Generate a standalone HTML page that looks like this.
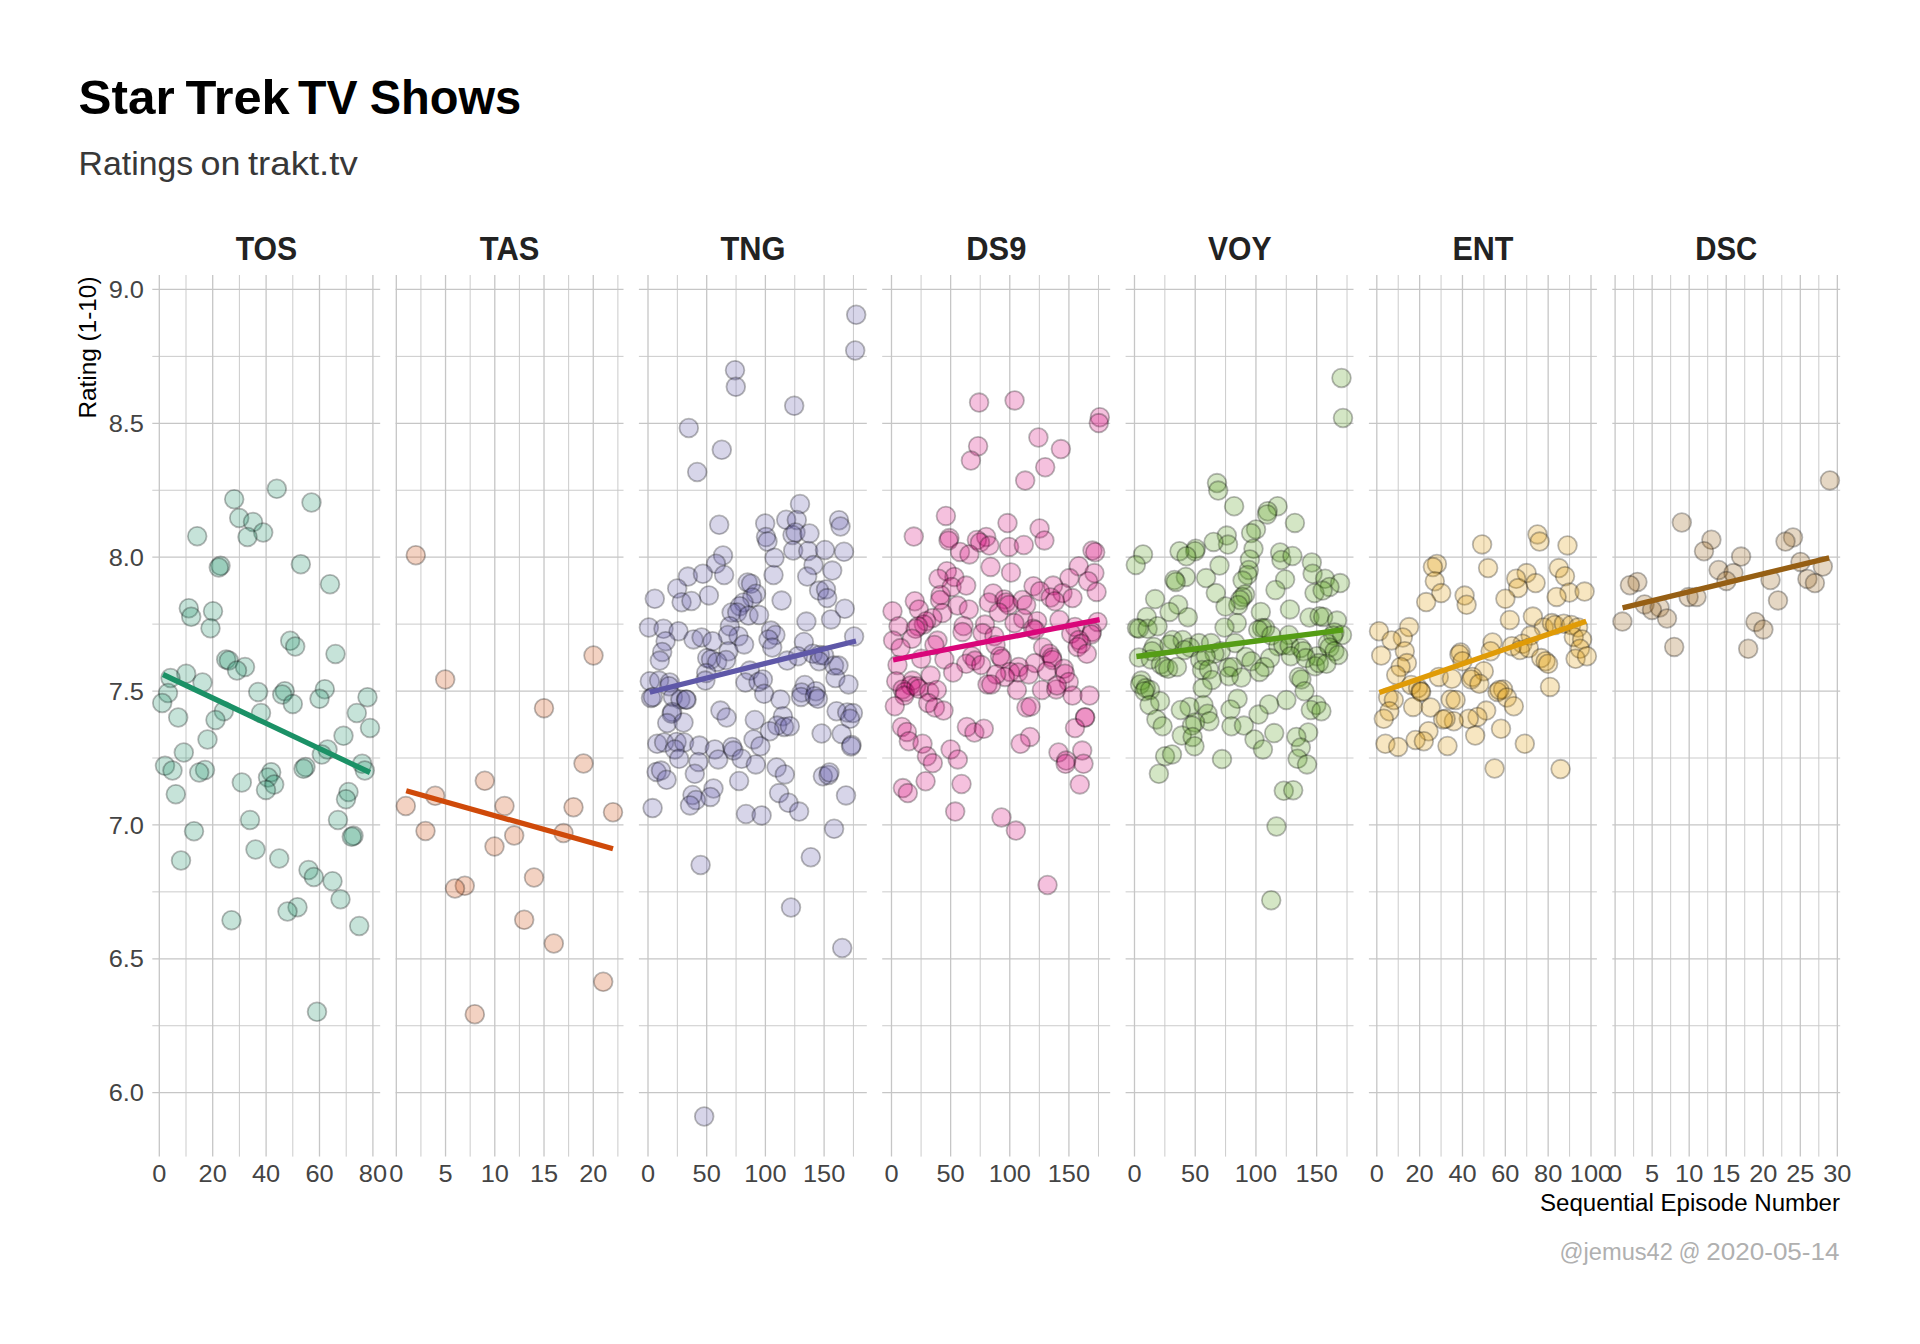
<!DOCTYPE html>
<html><head><meta charset="utf-8"><title>Star Trek TV Shows</title>
<style>
html,body{margin:0;padding:0;background:#fff;}
body{width:1920px;height:1344px;overflow:hidden;font-family:"Liberation Sans", sans-serif;}
svg{display:block;position:absolute;left:0;top:0;}
text{font-family:"Liberation Sans", sans-serif;}
.gM{stroke:#c6c6c6;stroke-width:1.3;}
.gm{stroke:#c8c8c8;stroke-width:0.95;}
.tk{font-size:23.5px;fill:#444444;}
.st{font-size:32.5px;font-weight:bold;fill:#222222;}
.pt{stroke:#000;stroke-opacity:0.28;stroke-width:1.8;fill-opacity:0.25;}
.ln{stroke-width:5.3;fill:none;stroke-linecap:butt;}
</style></head><body>
<svg width="1920" height="1344" viewBox="0 0 1920 1344">
<rect width="1920" height="1344" fill="#ffffff"/>
<text x="78.6" y="114.2" font-size="48.5" font-weight="bold" fill="#000" textLength="96.1" lengthAdjust="spacingAndGlyphs">Star</text>
<text x="185.6" y="114.2" font-size="48.5" font-weight="bold" fill="#000" textLength="104.2" lengthAdjust="spacingAndGlyphs">Trek</text>
<text x="298.0" y="114.2" font-size="48.5" font-weight="bold" fill="#000" textLength="59.5" lengthAdjust="spacingAndGlyphs">TV</text>
<text x="369.7" y="114.2" font-size="48.5" font-weight="bold" fill="#000" textLength="151.6" lengthAdjust="spacingAndGlyphs">Shows</text>
<text x="78.6" y="174.7" font-size="33.5" fill="#383838" textLength="114.5" lengthAdjust="spacingAndGlyphs">Ratings</text>
<text x="200.5" y="174.7" font-size="33.5" fill="#383838" textLength="40.0" lengthAdjust="spacingAndGlyphs">on</text>
<text x="247.9" y="174.7" font-size="33.5" fill="#383838" textLength="109.9" lengthAdjust="spacingAndGlyphs">trakt.tv</text>
<text transform="translate(96.3,418.5) rotate(-90)" font-size="23.5" fill="#000" textLength="142" lengthAdjust="spacingAndGlyphs">Rating (1-10)</text>
<text x="1840" y="1210.7" font-size="23.5" fill="#000" text-anchor="end" textLength="300" lengthAdjust="spacingAndGlyphs">Sequential Episode Number</text>
<text x="1559.6" y="1260" font-size="23.5" fill="#b0b0b0" textLength="113.3" lengthAdjust="spacingAndGlyphs">@jemus42</text>
<text x="1678.8" y="1260" font-size="23.5" fill="#b0b0b0" textLength="21.6" lengthAdjust="spacingAndGlyphs">@</text>
<text x="1706.3" y="1260" font-size="23.5" fill="#b0b0b0" textLength="133.2" lengthAdjust="spacingAndGlyphs">2020-05-14</text>
<text class="tk" x="144" y="298.1" text-anchor="end" textLength="35.3" lengthAdjust="spacingAndGlyphs">9.0</text>
<text class="tk" x="144" y="431.9" text-anchor="end" textLength="35.3" lengthAdjust="spacingAndGlyphs">8.5</text>
<text class="tk" x="144" y="565.8" text-anchor="end" textLength="35.3" lengthAdjust="spacingAndGlyphs">8.0</text>
<text class="tk" x="144" y="699.7" text-anchor="end" textLength="35.3" lengthAdjust="spacingAndGlyphs">7.5</text>
<text class="tk" x="144" y="833.5" text-anchor="end" textLength="35.3" lengthAdjust="spacingAndGlyphs">7.0</text>
<text class="tk" x="144" y="967.4" text-anchor="end" textLength="35.3" lengthAdjust="spacingAndGlyphs">6.5</text>
<text class="tk" x="144" y="1101.3" text-anchor="end" textLength="35.3" lengthAdjust="spacingAndGlyphs">6.0</text>
<g>
<text class="st" x="266.4" y="260" text-anchor="middle" textLength="61.5" lengthAdjust="spacingAndGlyphs">TOS</text>
<line class="gM" x1="152.3" x2="380.2" y1="289.45" y2="289.45"/>
<line class="gm" x1="152.3" x2="380.2" y1="356.38" y2="356.38"/>
<line class="gM" x1="152.3" x2="380.2" y1="423.32" y2="423.32"/>
<line class="gm" x1="152.3" x2="380.2" y1="490.25" y2="490.25"/>
<line class="gM" x1="152.3" x2="380.2" y1="557.19" y2="557.19"/>
<line class="gm" x1="152.3" x2="380.2" y1="624.12" y2="624.12"/>
<line class="gM" x1="152.3" x2="380.2" y1="691.06" y2="691.06"/>
<line class="gm" x1="152.3" x2="380.2" y1="758.00" y2="758.00"/>
<line class="gM" x1="152.3" x2="380.2" y1="824.93" y2="824.93"/>
<line class="gm" x1="152.3" x2="380.2" y1="891.87" y2="891.87"/>
<line class="gM" x1="152.3" x2="380.2" y1="958.80" y2="958.80"/>
<line class="gm" x1="152.3" x2="380.2" y1="1025.74" y2="1025.74"/>
<line class="gM" x1="152.3" x2="380.2" y1="1092.67" y2="1092.67"/>
<line class="gM" x1="159.30" x2="159.30" y1="275.0" y2="1156.6"/>
<text class="tk" x="159.3" y="1181.7" text-anchor="middle" textLength="14.1" lengthAdjust="spacingAndGlyphs">0</text>
<line class="gm" x1="186.00" x2="186.00" y1="275.0" y2="1156.6"/>
<line class="gM" x1="212.70" x2="212.70" y1="275.0" y2="1156.6"/>
<text class="tk" x="212.7" y="1181.7" text-anchor="middle" textLength="28.2" lengthAdjust="spacingAndGlyphs">20</text>
<line class="gm" x1="239.40" x2="239.40" y1="275.0" y2="1156.6"/>
<line class="gM" x1="266.10" x2="266.10" y1="275.0" y2="1156.6"/>
<text class="tk" x="266.1" y="1181.7" text-anchor="middle" textLength="28.2" lengthAdjust="spacingAndGlyphs">40</text>
<line class="gm" x1="292.80" x2="292.80" y1="275.0" y2="1156.6"/>
<line class="gM" x1="319.50" x2="319.50" y1="275.0" y2="1156.6"/>
<text class="tk" x="319.5" y="1181.7" text-anchor="middle" textLength="28.2" lengthAdjust="spacingAndGlyphs">60</text>
<line class="gm" x1="346.20" x2="346.20" y1="275.0" y2="1156.6"/>
<line class="gM" x1="372.90" x2="372.90" y1="275.0" y2="1156.6"/>
<text class="tk" x="372.9" y="1181.7" text-anchor="middle" textLength="28.2" lengthAdjust="spacingAndGlyphs">80</text>
<g class="pt" fill="#1B9166">
<circle cx="276.8" cy="488.8" r="9.35"/><circle cx="234.2" cy="499.2" r="9.35"/><circle cx="311.5" cy="502.5" r="9.35"/><circle cx="239.2" cy="518.0" r="9.35"/><circle cx="253.0" cy="522.0" r="9.35"/><circle cx="263.2" cy="532.5" r="9.35"/><circle cx="247.5" cy="537.0" r="9.35"/><circle cx="197.2" cy="536.2" r="9.35"/><circle cx="220.5" cy="565.8" r="9.35"/><circle cx="218.8" cy="567.5" r="9.35"/><circle cx="300.8" cy="564.2" r="9.35"/><circle cx="330.0" cy="584.2" r="9.35"/><circle cx="188.8" cy="608.2" r="9.35"/><circle cx="191.2" cy="616.8" r="9.35"/><circle cx="213.0" cy="611.2" r="9.35"/><circle cx="210.5" cy="628.2" r="9.35"/><circle cx="290.2" cy="640.8" r="9.35"/><circle cx="295.2" cy="646.5" r="9.35"/><circle cx="335.5" cy="654.0" r="9.35"/><circle cx="226.2" cy="659.5" r="9.35"/><circle cx="228.8" cy="660.5" r="9.35"/><circle cx="245.0" cy="667.0" r="9.35"/><circle cx="237.0" cy="670.5" r="9.35"/><circle cx="186.2" cy="673.8" r="9.35"/><circle cx="170.5" cy="678.0" r="9.35"/><circle cx="202.5" cy="682.5" r="9.35"/><circle cx="168.0" cy="693.0" r="9.35"/><circle cx="162.2" cy="703.0" r="9.35"/><circle cx="258.2" cy="692.0" r="9.35"/><circle cx="284.8" cy="691.2" r="9.35"/><circle cx="282.2" cy="694.5" r="9.35"/><circle cx="292.8" cy="704.0" r="9.35"/><circle cx="324.8" cy="689.2" r="9.35"/><circle cx="319.5" cy="698.8" r="9.35"/><circle cx="367.5" cy="697.2" r="9.35"/><circle cx="356.8" cy="713.0" r="9.35"/><circle cx="261.0" cy="713.0" r="9.35"/><circle cx="223.8" cy="711.2" r="9.35"/><circle cx="215.5" cy="720.0" r="9.35"/><circle cx="178.2" cy="717.5" r="9.35"/><circle cx="370.0" cy="728.0" r="9.35"/><circle cx="343.5" cy="735.8" r="9.35"/><circle cx="207.5" cy="739.5" r="9.35"/><circle cx="327.5" cy="749.5" r="9.35"/><circle cx="321.8" cy="754.5" r="9.35"/><circle cx="183.8" cy="752.5" r="9.35"/><circle cx="165.0" cy="765.8" r="9.35"/><circle cx="172.5" cy="770.5" r="9.35"/><circle cx="362.2" cy="763.8" r="9.35"/><circle cx="364.8" cy="770.5" r="9.35"/><circle cx="305.5" cy="767.0" r="9.35"/><circle cx="303.5" cy="768.8" r="9.35"/><circle cx="205.0" cy="770.0" r="9.35"/><circle cx="199.2" cy="772.5" r="9.35"/><circle cx="271.2" cy="772.2" r="9.35"/><circle cx="268.0" cy="777.5" r="9.35"/><circle cx="241.8" cy="782.5" r="9.35"/><circle cx="274.2" cy="784.5" r="9.35"/><circle cx="266.0" cy="790.0" r="9.35"/><circle cx="175.8" cy="794.2" r="9.35"/><circle cx="348.5" cy="792.0" r="9.35"/><circle cx="346.0" cy="799.2" r="9.35"/><circle cx="250.0" cy="820.0" r="9.35"/><circle cx="338.0" cy="820.0" r="9.35"/><circle cx="194.0" cy="831.2" r="9.35"/><circle cx="353.5" cy="835.8" r="9.35"/><circle cx="351.8" cy="836.8" r="9.35"/><circle cx="255.5" cy="849.5" r="9.35"/><circle cx="181.0" cy="860.5" r="9.35"/><circle cx="279.2" cy="858.5" r="9.35"/><circle cx="308.5" cy="870.0" r="9.35"/><circle cx="313.8" cy="877.0" r="9.35"/><circle cx="332.5" cy="881.2" r="9.35"/><circle cx="340.5" cy="899.2" r="9.35"/><circle cx="297.5" cy="907.2" r="9.35"/><circle cx="287.5" cy="911.5" r="9.35"/><circle cx="231.5" cy="920.2" r="9.35"/><circle cx="359.2" cy="926.0" r="9.35"/><circle cx="317.0" cy="1011.8" r="9.35"/>
</g>
<line class="ln" stroke="#1B9166" x1="163.0" y1="674.5" x2="370.0" y2="772.5"/>
</g>
<g>
<text class="st" x="509.6" y="260" text-anchor="middle" textLength="59.5" lengthAdjust="spacingAndGlyphs">TAS</text>
<line class="gM" x1="395.6" x2="623.5" y1="289.45" y2="289.45"/>
<line class="gm" x1="395.6" x2="623.5" y1="356.38" y2="356.38"/>
<line class="gM" x1="395.6" x2="623.5" y1="423.32" y2="423.32"/>
<line class="gm" x1="395.6" x2="623.5" y1="490.25" y2="490.25"/>
<line class="gM" x1="395.6" x2="623.5" y1="557.19" y2="557.19"/>
<line class="gm" x1="395.6" x2="623.5" y1="624.12" y2="624.12"/>
<line class="gM" x1="395.6" x2="623.5" y1="691.06" y2="691.06"/>
<line class="gm" x1="395.6" x2="623.5" y1="758.00" y2="758.00"/>
<line class="gM" x1="395.6" x2="623.5" y1="824.93" y2="824.93"/>
<line class="gm" x1="395.6" x2="623.5" y1="891.87" y2="891.87"/>
<line class="gM" x1="395.6" x2="623.5" y1="958.80" y2="958.80"/>
<line class="gm" x1="395.6" x2="623.5" y1="1025.74" y2="1025.74"/>
<line class="gM" x1="395.6" x2="623.5" y1="1092.67" y2="1092.67"/>
<line class="gM" x1="396.30" x2="396.30" y1="275.0" y2="1156.6"/>
<text class="tk" x="396.3" y="1181.7" text-anchor="middle" textLength="14.1" lengthAdjust="spacingAndGlyphs">0</text>
<line class="gm" x1="420.92" x2="420.92" y1="275.0" y2="1156.6"/>
<line class="gM" x1="445.54" x2="445.54" y1="275.0" y2="1156.6"/>
<text class="tk" x="445.5" y="1181.7" text-anchor="middle" textLength="14.1" lengthAdjust="spacingAndGlyphs">5</text>
<line class="gm" x1="470.16" x2="470.16" y1="275.0" y2="1156.6"/>
<line class="gM" x1="494.78" x2="494.78" y1="275.0" y2="1156.6"/>
<text class="tk" x="494.8" y="1181.7" text-anchor="middle" textLength="28.2" lengthAdjust="spacingAndGlyphs">10</text>
<line class="gm" x1="519.40" x2="519.40" y1="275.0" y2="1156.6"/>
<line class="gM" x1="544.02" x2="544.02" y1="275.0" y2="1156.6"/>
<text class="tk" x="544.0" y="1181.7" text-anchor="middle" textLength="28.2" lengthAdjust="spacingAndGlyphs">15</text>
<line class="gm" x1="568.64" x2="568.64" y1="275.0" y2="1156.6"/>
<line class="gM" x1="593.26" x2="593.26" y1="275.0" y2="1156.6"/>
<text class="tk" x="593.3" y="1181.7" text-anchor="middle" textLength="28.2" lengthAdjust="spacingAndGlyphs">20</text>
<line class="gm" x1="617.88" x2="617.88" y1="275.0" y2="1156.6"/>
<g class="pt" fill="#CF4A0A">
<circle cx="415.8" cy="555.2" r="9.35"/><circle cx="593.5" cy="655.5" r="9.35"/><circle cx="445.2" cy="679.5" r="9.35"/><circle cx="544.0" cy="708.2" r="9.35"/><circle cx="583.5" cy="763.5" r="9.35"/><circle cx="484.8" cy="780.8" r="9.35"/><circle cx="435.2" cy="795.8" r="9.35"/><circle cx="405.8" cy="806.0" r="9.35"/><circle cx="504.5" cy="806.0" r="9.35"/><circle cx="573.5" cy="807.2" r="9.35"/><circle cx="613.0" cy="812.2" r="9.35"/><circle cx="425.5" cy="831.0" r="9.35"/><circle cx="514.2" cy="835.5" r="9.35"/><circle cx="563.5" cy="833.0" r="9.35"/><circle cx="494.5" cy="846.5" r="9.35"/><circle cx="534.0" cy="877.5" r="9.35"/><circle cx="464.8" cy="885.8" r="9.35"/><circle cx="455.0" cy="888.5" r="9.35"/><circle cx="524.2" cy="919.8" r="9.35"/><circle cx="553.8" cy="943.5" r="9.35"/><circle cx="603.2" cy="981.8" r="9.35"/><circle cx="474.8" cy="1014.2" r="9.35"/>
</g>
<line class="ln" stroke="#CF4A0A" x1="406.2" y1="790.8" x2="613.0" y2="848.8"/>
</g>
<g>
<text class="st" x="753.0" y="260" text-anchor="middle" textLength="65.0" lengthAdjust="spacingAndGlyphs">TNG</text>
<line class="gM" x1="638.9" x2="866.8" y1="289.45" y2="289.45"/>
<line class="gm" x1="638.9" x2="866.8" y1="356.38" y2="356.38"/>
<line class="gM" x1="638.9" x2="866.8" y1="423.32" y2="423.32"/>
<line class="gm" x1="638.9" x2="866.8" y1="490.25" y2="490.25"/>
<line class="gM" x1="638.9" x2="866.8" y1="557.19" y2="557.19"/>
<line class="gm" x1="638.9" x2="866.8" y1="624.12" y2="624.12"/>
<line class="gM" x1="638.9" x2="866.8" y1="691.06" y2="691.06"/>
<line class="gm" x1="638.9" x2="866.8" y1="758.00" y2="758.00"/>
<line class="gM" x1="638.9" x2="866.8" y1="824.93" y2="824.93"/>
<line class="gm" x1="638.9" x2="866.8" y1="891.87" y2="891.87"/>
<line class="gM" x1="638.9" x2="866.8" y1="958.80" y2="958.80"/>
<line class="gm" x1="638.9" x2="866.8" y1="1025.74" y2="1025.74"/>
<line class="gM" x1="638.9" x2="866.8" y1="1092.67" y2="1092.67"/>
<line class="gM" x1="648.00" x2="648.00" y1="275.0" y2="1156.6"/>
<text class="tk" x="648.0" y="1181.7" text-anchor="middle" textLength="14.1" lengthAdjust="spacingAndGlyphs">0</text>
<line class="gm" x1="677.35" x2="677.35" y1="275.0" y2="1156.6"/>
<line class="gM" x1="706.70" x2="706.70" y1="275.0" y2="1156.6"/>
<text class="tk" x="706.7" y="1181.7" text-anchor="middle" textLength="28.2" lengthAdjust="spacingAndGlyphs">50</text>
<line class="gm" x1="736.05" x2="736.05" y1="275.0" y2="1156.6"/>
<line class="gM" x1="765.40" x2="765.40" y1="275.0" y2="1156.6"/>
<text class="tk" x="765.4" y="1181.7" text-anchor="middle" textLength="42.3" lengthAdjust="spacingAndGlyphs">100</text>
<line class="gm" x1="794.75" x2="794.75" y1="275.0" y2="1156.6"/>
<line class="gM" x1="824.10" x2="824.10" y1="275.0" y2="1156.6"/>
<text class="tk" x="824.1" y="1181.7" text-anchor="middle" textLength="42.3" lengthAdjust="spacingAndGlyphs">150</text>
<line class="gm" x1="853.45" x2="853.45" y1="275.0" y2="1156.6"/>
<g class="pt" fill="#5F58A8">
<circle cx="856.2" cy="314.8" r="9.35"/><circle cx="855.2" cy="350.5" r="9.35"/><circle cx="735.0" cy="370.2" r="9.35"/><circle cx="735.8" cy="386.8" r="9.35"/><circle cx="794.2" cy="405.8" r="9.35"/><circle cx="688.8" cy="428.0" r="9.35"/><circle cx="721.8" cy="449.8" r="9.35"/><circle cx="697.2" cy="472.0" r="9.35"/><circle cx="800.0" cy="504.0" r="9.35"/><circle cx="719.2" cy="524.8" r="9.35"/><circle cx="765.2" cy="523.5" r="9.35"/><circle cx="786.2" cy="519.8" r="9.35"/><circle cx="796.8" cy="520.0" r="9.35"/><circle cx="839.0" cy="520.2" r="9.35"/><circle cx="840.5" cy="526.5" r="9.35"/><circle cx="792.5" cy="535.0" r="9.35"/><circle cx="795.5" cy="532.5" r="9.35"/><circle cx="809.5" cy="533.5" r="9.35"/><circle cx="766.0" cy="537.0" r="9.35"/><circle cx="767.5" cy="541.5" r="9.35"/><circle cx="793.2" cy="550.5" r="9.35"/><circle cx="808.2" cy="551.0" r="9.35"/><circle cx="825.0" cy="550.0" r="9.35"/><circle cx="844.0" cy="551.8" r="9.35"/><circle cx="723.0" cy="555.5" r="9.35"/><circle cx="774.5" cy="557.8" r="9.35"/><circle cx="716.0" cy="563.8" r="9.35"/><circle cx="773.5" cy="575.0" r="9.35"/><circle cx="813.5" cy="565.0" r="9.35"/><circle cx="807.2" cy="576.6" r="9.35"/><circle cx="832.2" cy="570.6" r="9.35"/><circle cx="687.9" cy="576.6" r="9.35"/><circle cx="702.9" cy="573.8" r="9.35"/><circle cx="724.1" cy="575.0" r="9.35"/><circle cx="747.6" cy="582.5" r="9.35"/><circle cx="751.0" cy="583.8" r="9.35"/><circle cx="677.2" cy="588.5" r="9.35"/><circle cx="708.9" cy="595.4" r="9.35"/><circle cx="819.1" cy="590.6" r="9.35"/><circle cx="826.0" cy="589.4" r="9.35"/><circle cx="827.2" cy="598.1" r="9.35"/><circle cx="756.0" cy="593.8" r="9.35"/><circle cx="752.2" cy="597.5" r="9.35"/><circle cx="654.8" cy="598.8" r="9.35"/><circle cx="681.6" cy="602.2" r="9.35"/><circle cx="691.4" cy="601.0" r="9.35"/><circle cx="781.6" cy="600.6" r="9.35"/><circle cx="743.5" cy="602.5" r="9.35"/><circle cx="739.8" cy="606.2" r="9.35"/><circle cx="844.8" cy="608.8" r="9.35"/><circle cx="731.6" cy="612.5" r="9.35"/><circle cx="737.2" cy="612.5" r="9.35"/><circle cx="748.5" cy="615.6" r="9.35"/><circle cx="759.1" cy="615.0" r="9.35"/><circle cx="831.0" cy="619.4" r="9.35"/><circle cx="806.4" cy="621.6" r="9.35"/><circle cx="648.9" cy="627.5" r="9.35"/><circle cx="663.5" cy="628.8" r="9.35"/><circle cx="678.5" cy="631.2" r="9.35"/><circle cx="729.8" cy="626.2" r="9.35"/><circle cx="771.0" cy="630.6" r="9.35"/><circle cx="775.4" cy="635.0" r="9.35"/><circle cx="768.5" cy="639.4" r="9.35"/><circle cx="738.5" cy="636.2" r="9.35"/><circle cx="727.9" cy="635.0" r="9.35"/><circle cx="854.1" cy="636.5" r="9.35"/><circle cx="693.5" cy="639.4" r="9.35"/><circle cx="701.6" cy="637.5" r="9.35"/><circle cx="712.5" cy="641.2" r="9.35"/><circle cx="665.6" cy="641.2" r="9.35"/><circle cx="744.1" cy="644.4" r="9.35"/><circle cx="803.9" cy="641.9" r="9.35"/><circle cx="772.2" cy="647.5" r="9.35"/><circle cx="662.2" cy="651.9" r="9.35"/><circle cx="728.5" cy="651.2" r="9.35"/><circle cx="659.8" cy="660.6" r="9.35"/><circle cx="707.2" cy="658.1" r="9.35"/><circle cx="711.0" cy="659.4" r="9.35"/><circle cx="717.2" cy="661.9" r="9.35"/><circle cx="726.0" cy="660.0" r="9.35"/><circle cx="787.2" cy="660.6" r="9.35"/><circle cx="797.9" cy="656.2" r="9.35"/><circle cx="812.9" cy="653.8" r="9.35"/><circle cx="819.8" cy="655.0" r="9.35"/><circle cx="824.1" cy="655.6" r="9.35"/><circle cx="819.1" cy="661.2" r="9.35"/><circle cx="834.1" cy="665.6" r="9.35"/><circle cx="838.5" cy="665.6" r="9.35"/><circle cx="749.8" cy="670.6" r="9.35"/><circle cx="706.2" cy="673.1" r="9.35"/><circle cx="705.4" cy="680.6" r="9.35"/><circle cx="835.4" cy="678.1" r="9.35"/><circle cx="848.5" cy="684.4" r="9.35"/><circle cx="649.8" cy="681.2" r="9.35"/><circle cx="659.1" cy="680.6" r="9.35"/><circle cx="669.8" cy="682.5" r="9.35"/><circle cx="669.1" cy="686.2" r="9.35"/><circle cx="745.4" cy="682.5" r="9.35"/><circle cx="758.5" cy="681.9" r="9.35"/><circle cx="762.9" cy="679.4" r="9.35"/><circle cx="804.8" cy="685.0" r="9.35"/><circle cx="764.1" cy="693.8" r="9.35"/><circle cx="780.4" cy="699.4" r="9.35"/><circle cx="801.6" cy="692.5" r="9.35"/><circle cx="801.0" cy="696.9" r="9.35"/><circle cx="816.0" cy="691.2" r="9.35"/><circle cx="814.8" cy="696.2" r="9.35"/><circle cx="817.9" cy="698.8" r="9.35"/><circle cx="651.0" cy="698.1" r="9.35"/><circle cx="652.9" cy="696.9" r="9.35"/><circle cx="672.9" cy="696.9" r="9.35"/><circle cx="680.4" cy="699.4" r="9.35"/><circle cx="686.0" cy="699.4" r="9.35"/><circle cx="686.6" cy="699.8" r="9.35"/><circle cx="720.4" cy="710.6" r="9.35"/><circle cx="726.6" cy="717.5" r="9.35"/><circle cx="672.2" cy="711.9" r="9.35"/><circle cx="671.6" cy="713.8" r="9.35"/><circle cx="667.2" cy="723.1" r="9.35"/><circle cx="683.5" cy="722.5" r="9.35"/><circle cx="754.8" cy="720.0" r="9.35"/><circle cx="782.9" cy="716.2" r="9.35"/><circle cx="777.2" cy="725.6" r="9.35"/><circle cx="784.1" cy="726.9" r="9.35"/><circle cx="789.8" cy="726.2" r="9.35"/><circle cx="769.8" cy="731.2" r="9.35"/><circle cx="836.6" cy="711.2" r="9.35"/><circle cx="847.2" cy="712.5" r="9.35"/><circle cx="852.9" cy="713.1" r="9.35"/><circle cx="850.0" cy="718.8" r="9.35"/><circle cx="821.6" cy="733.5" r="9.35"/><circle cx="841.6" cy="734.0" r="9.35"/><circle cx="851.6" cy="745.0" r="9.35"/><circle cx="851.0" cy="746.5" r="9.35"/><circle cx="753.5" cy="739.4" r="9.35"/><circle cx="760.4" cy="746.2" r="9.35"/><circle cx="657.2" cy="743.8" r="9.35"/><circle cx="664.1" cy="742.5" r="9.35"/><circle cx="676.6" cy="741.9" r="9.35"/><circle cx="684.1" cy="742.5" r="9.35"/><circle cx="674.8" cy="749.4" r="9.35"/><circle cx="699.4" cy="745.6" r="9.35"/><circle cx="714.8" cy="749.4" r="9.35"/><circle cx="732.2" cy="746.9" r="9.35"/><circle cx="733.5" cy="750.6" r="9.35"/><circle cx="679.1" cy="758.8" r="9.35"/><circle cx="698.5" cy="761.9" r="9.35"/><circle cx="718.2" cy="759.4" r="9.35"/><circle cx="741.6" cy="758.8" r="9.35"/><circle cx="755.8" cy="764.4" r="9.35"/><circle cx="776.6" cy="767.5" r="9.35"/><circle cx="784.8" cy="774.4" r="9.35"/><circle cx="656.6" cy="771.9" r="9.35"/><circle cx="661.0" cy="770.6" r="9.35"/><circle cx="666.6" cy="779.8" r="9.35"/><circle cx="694.8" cy="773.8" r="9.35"/><circle cx="739.1" cy="781.0" r="9.35"/><circle cx="822.9" cy="776.2" r="9.35"/><circle cx="828.5" cy="775.0" r="9.35"/><circle cx="829.5" cy="772.5" r="9.35"/><circle cx="713.5" cy="788.5" r="9.35"/><circle cx="710.4" cy="796.9" r="9.35"/><circle cx="692.5" cy="795.0" r="9.35"/><circle cx="696.0" cy="800.0" r="9.35"/><circle cx="690.0" cy="805.4" r="9.35"/><circle cx="779.1" cy="793.1" r="9.35"/><circle cx="788.5" cy="802.8" r="9.35"/><circle cx="799.1" cy="811.6" r="9.35"/><circle cx="846.0" cy="795.4" r="9.35"/><circle cx="652.6" cy="808.1" r="9.35"/><circle cx="746.0" cy="814.0" r="9.35"/><circle cx="761.6" cy="815.4" r="9.35"/><circle cx="834.1" cy="828.8" r="9.35"/><circle cx="810.8" cy="857.2" r="9.35"/><circle cx="700.6" cy="865.0" r="9.35"/><circle cx="791.0" cy="907.5" r="9.35"/><circle cx="842.2" cy="948.0" r="9.35"/><circle cx="704.2" cy="1116.5" r="9.35"/>
</g>
<line class="ln" stroke="#5F58A8" x1="649.8" y1="692.2" x2="856.0" y2="641.0"/>
</g>
<g>
<text class="st" x="996.3" y="260" text-anchor="middle" textLength="60.0" lengthAdjust="spacingAndGlyphs">DS9</text>
<line class="gM" x1="882.2" x2="1110.2" y1="289.45" y2="289.45"/>
<line class="gm" x1="882.2" x2="1110.2" y1="356.38" y2="356.38"/>
<line class="gM" x1="882.2" x2="1110.2" y1="423.32" y2="423.32"/>
<line class="gm" x1="882.2" x2="1110.2" y1="490.25" y2="490.25"/>
<line class="gM" x1="882.2" x2="1110.2" y1="557.19" y2="557.19"/>
<line class="gm" x1="882.2" x2="1110.2" y1="624.12" y2="624.12"/>
<line class="gM" x1="882.2" x2="1110.2" y1="691.06" y2="691.06"/>
<line class="gm" x1="882.2" x2="1110.2" y1="758.00" y2="758.00"/>
<line class="gM" x1="882.2" x2="1110.2" y1="824.93" y2="824.93"/>
<line class="gm" x1="882.2" x2="1110.2" y1="891.87" y2="891.87"/>
<line class="gM" x1="882.2" x2="1110.2" y1="958.80" y2="958.80"/>
<line class="gm" x1="882.2" x2="1110.2" y1="1025.74" y2="1025.74"/>
<line class="gM" x1="882.2" x2="1110.2" y1="1092.67" y2="1092.67"/>
<line class="gM" x1="891.50" x2="891.50" y1="275.0" y2="1156.6"/>
<text class="tk" x="891.5" y="1181.7" text-anchor="middle" textLength="14.1" lengthAdjust="spacingAndGlyphs">0</text>
<line class="gm" x1="921.07" x2="921.07" y1="275.0" y2="1156.6"/>
<line class="gM" x1="950.64" x2="950.64" y1="275.0" y2="1156.6"/>
<text class="tk" x="950.6" y="1181.7" text-anchor="middle" textLength="28.2" lengthAdjust="spacingAndGlyphs">50</text>
<line class="gm" x1="980.21" x2="980.21" y1="275.0" y2="1156.6"/>
<line class="gM" x1="1009.78" x2="1009.78" y1="275.0" y2="1156.6"/>
<text class="tk" x="1009.8" y="1181.7" text-anchor="middle" textLength="42.3" lengthAdjust="spacingAndGlyphs">100</text>
<line class="gm" x1="1039.35" x2="1039.35" y1="275.0" y2="1156.6"/>
<line class="gM" x1="1068.92" x2="1068.92" y1="275.0" y2="1156.6"/>
<text class="tk" x="1068.9" y="1181.7" text-anchor="middle" textLength="42.3" lengthAdjust="spacingAndGlyphs">150</text>
<line class="gm" x1="1098.49" x2="1098.49" y1="275.0" y2="1156.6"/>
<g class="pt" fill="#D9067A">
<circle cx="979.1" cy="402.6" r="9.35"/><circle cx="1014.6" cy="400.4" r="9.35"/><circle cx="1099.8" cy="417.2" r="9.35"/><circle cx="1098.8" cy="423.1" r="9.35"/><circle cx="1038.4" cy="437.5" r="9.35"/><circle cx="978.1" cy="446.2" r="9.35"/><circle cx="1060.9" cy="449.1" r="9.35"/><circle cx="970.9" cy="460.6" r="9.35"/><circle cx="1045.2" cy="467.2" r="9.35"/><circle cx="1025.2" cy="480.6" r="9.35"/><circle cx="945.9" cy="515.9" r="9.35"/><circle cx="1007.5" cy="523.1" r="9.35"/><circle cx="1039.6" cy="528.4" r="9.35"/><circle cx="913.8" cy="536.6" r="9.35"/><circle cx="949.4" cy="538.1" r="9.35"/><circle cx="948.5" cy="540.6" r="9.35"/><circle cx="986.2" cy="536.9" r="9.35"/><circle cx="976.9" cy="540.0" r="9.35"/><circle cx="980.0" cy="542.5" r="9.35"/><circle cx="1044.4" cy="540.4" r="9.35"/><circle cx="989.4" cy="545.6" r="9.35"/><circle cx="1009.1" cy="546.9" r="9.35"/><circle cx="1023.8" cy="545.0" r="9.35"/><circle cx="960.0" cy="551.9" r="9.35"/><circle cx="969.4" cy="554.4" r="9.35"/><circle cx="1092.5" cy="550.6" r="9.35"/><circle cx="1095.2" cy="552.2" r="9.35"/><circle cx="990.6" cy="566.9" r="9.35"/><circle cx="1011.0" cy="572.5" r="9.35"/><circle cx="1078.8" cy="566.2" r="9.35"/><circle cx="1094.4" cy="573.1" r="9.35"/><circle cx="1069.4" cy="578.1" r="9.35"/><circle cx="1088.1" cy="581.2" r="9.35"/><circle cx="946.9" cy="571.2" r="9.35"/><circle cx="954.4" cy="576.9" r="9.35"/><circle cx="938.5" cy="578.8" r="9.35"/><circle cx="951.6" cy="586.9" r="9.35"/><circle cx="966.2" cy="585.6" r="9.35"/><circle cx="1033.5" cy="586.2" r="9.35"/><circle cx="1053.1" cy="585.6" r="9.35"/><circle cx="1040.0" cy="591.2" r="9.35"/><circle cx="1096.6" cy="591.9" r="9.35"/><circle cx="993.1" cy="593.4" r="9.35"/><circle cx="1062.5" cy="593.1" r="9.35"/><circle cx="1050.6" cy="597.5" r="9.35"/><circle cx="1072.5" cy="598.1" r="9.35"/><circle cx="1055.0" cy="601.2" r="9.35"/><circle cx="940.6" cy="595.0" r="9.35"/><circle cx="940.0" cy="600.0" r="9.35"/><circle cx="914.8" cy="601.2" r="9.35"/><circle cx="918.8" cy="609.4" r="9.35"/><circle cx="957.5" cy="605.6" r="9.35"/><circle cx="968.8" cy="609.4" r="9.35"/><circle cx="988.8" cy="602.5" r="9.35"/><circle cx="1004.4" cy="599.4" r="9.35"/><circle cx="1006.2" cy="602.5" r="9.35"/><circle cx="1008.8" cy="605.0" r="9.35"/><circle cx="1022.5" cy="600.0" r="9.35"/><circle cx="1026.2" cy="605.0" r="9.35"/><circle cx="998.8" cy="612.5" r="9.35"/><circle cx="892.5" cy="611.2" r="9.35"/><circle cx="942.5" cy="613.1" r="9.35"/><circle cx="932.5" cy="618.1" r="9.35"/><circle cx="926.2" cy="621.2" r="9.35"/><circle cx="923.8" cy="624.4" r="9.35"/><circle cx="918.1" cy="626.2" r="9.35"/><circle cx="915.6" cy="628.8" r="9.35"/><circle cx="898.5" cy="626.2" r="9.35"/><circle cx="1023.1" cy="618.8" r="9.35"/><circle cx="1014.4" cy="623.1" r="9.35"/><circle cx="1037.2" cy="621.2" r="9.35"/><circle cx="1059.4" cy="620.0" r="9.35"/><circle cx="1097.5" cy="621.9" r="9.35"/><circle cx="985.0" cy="624.6" r="9.35"/><circle cx="963.5" cy="626.0" r="9.35"/><circle cx="962.5" cy="631.9" r="9.35"/><circle cx="982.5" cy="633.1" r="9.35"/><circle cx="994.4" cy="636.2" r="9.35"/><circle cx="1033.1" cy="628.8" r="9.35"/><circle cx="1035.0" cy="630.0" r="9.35"/><circle cx="1075.0" cy="626.9" r="9.35"/><circle cx="1071.2" cy="633.8" r="9.35"/><circle cx="1091.9" cy="631.9" r="9.35"/><circle cx="1091.2" cy="634.4" r="9.35"/><circle cx="893.1" cy="640.6" r="9.35"/><circle cx="911.9" cy="638.8" r="9.35"/><circle cx="937.5" cy="640.6" r="9.35"/><circle cx="934.4" cy="645.0" r="9.35"/><circle cx="900.6" cy="648.1" r="9.35"/><circle cx="995.6" cy="645.0" r="9.35"/><circle cx="1078.8" cy="640.0" r="9.35"/><circle cx="1081.2" cy="643.8" r="9.35"/><circle cx="1077.5" cy="646.9" r="9.35"/><circle cx="1043.1" cy="647.5" r="9.35"/><circle cx="1086.9" cy="653.8" r="9.35"/><circle cx="921.2" cy="658.8" r="9.35"/><circle cx="944.4" cy="659.4" r="9.35"/><circle cx="897.5" cy="665.0" r="9.35"/><circle cx="971.9" cy="656.2" r="9.35"/><circle cx="975.0" cy="660.6" r="9.35"/><circle cx="966.2" cy="663.8" r="9.35"/><circle cx="981.2" cy="665.0" r="9.35"/><circle cx="1000.0" cy="656.2" r="9.35"/><circle cx="1001.9" cy="658.8" r="9.35"/><circle cx="1049.4" cy="653.8" r="9.35"/><circle cx="1051.9" cy="657.5" r="9.35"/><circle cx="1052.5" cy="660.0" r="9.35"/><circle cx="1035.0" cy="663.1" r="9.35"/><circle cx="1018.8" cy="666.9" r="9.35"/><circle cx="1063.8" cy="668.8" r="9.35"/><circle cx="953.1" cy="672.5" r="9.35"/><circle cx="930.6" cy="675.6" r="9.35"/><circle cx="1046.9" cy="671.2" r="9.35"/><circle cx="1065.0" cy="673.8" r="9.35"/><circle cx="1010.0" cy="671.9" r="9.35"/><circle cx="1018.1" cy="672.5" r="9.35"/><circle cx="1028.8" cy="674.4" r="9.35"/><circle cx="1005.0" cy="676.9" r="9.35"/><circle cx="996.2" cy="674.4" r="9.35"/><circle cx="896.2" cy="681.2" r="9.35"/><circle cx="912.5" cy="680.6" r="9.35"/><circle cx="987.5" cy="684.4" r="9.35"/><circle cx="991.2" cy="684.4" r="9.35"/><circle cx="1068.8" cy="681.9" r="9.35"/><circle cx="910.6" cy="685.6" r="9.35"/><circle cx="902.5" cy="689.4" r="9.35"/><circle cx="905.0" cy="691.9" r="9.35"/><circle cx="904.4" cy="695.6" r="9.35"/><circle cx="916.2" cy="686.2" r="9.35"/><circle cx="918.8" cy="688.8" r="9.35"/><circle cx="929.4" cy="691.9" r="9.35"/><circle cx="936.9" cy="690.0" r="9.35"/><circle cx="894.8" cy="706.2" r="9.35"/><circle cx="928.1" cy="703.1" r="9.35"/><circle cx="935.0" cy="707.5" r="9.35"/><circle cx="943.5" cy="710.6" r="9.35"/><circle cx="1016.9" cy="690.0" r="9.35"/><circle cx="1041.9" cy="690.0" r="9.35"/><circle cx="1056.2" cy="689.4" r="9.35"/><circle cx="1056.9" cy="685.6" r="9.35"/><circle cx="1072.5" cy="695.6" r="9.35"/><circle cx="1089.6" cy="695.6" r="9.35"/><circle cx="1026.5" cy="707.5" r="9.35"/><circle cx="1030.6" cy="706.5" r="9.35"/><circle cx="1085.0" cy="717.2" r="9.35"/><circle cx="1085.2" cy="717.5" r="9.35"/><circle cx="1075.0" cy="728.1" r="9.35"/><circle cx="901.9" cy="726.9" r="9.35"/><circle cx="906.9" cy="731.9" r="9.35"/><circle cx="908.8" cy="741.2" r="9.35"/><circle cx="922.5" cy="743.8" r="9.35"/><circle cx="966.9" cy="726.9" r="9.35"/><circle cx="974.4" cy="732.5" r="9.35"/><circle cx="983.8" cy="728.8" r="9.35"/><circle cx="1030.0" cy="736.9" r="9.35"/><circle cx="1020.6" cy="743.8" r="9.35"/><circle cx="950.6" cy="749.4" r="9.35"/><circle cx="957.8" cy="759.4" r="9.35"/><circle cx="926.9" cy="756.2" r="9.35"/><circle cx="932.8" cy="763.1" r="9.35"/><circle cx="1058.5" cy="752.5" r="9.35"/><circle cx="1082.2" cy="750.6" r="9.35"/><circle cx="1066.2" cy="760.6" r="9.35"/><circle cx="1065.6" cy="763.8" r="9.35"/><circle cx="1083.5" cy="763.8" r="9.35"/><circle cx="925.6" cy="781.2" r="9.35"/><circle cx="961.5" cy="784.0" r="9.35"/><circle cx="1079.8" cy="784.4" r="9.35"/><circle cx="902.9" cy="788.1" r="9.35"/><circle cx="907.8" cy="793.1" r="9.35"/><circle cx="955.2" cy="811.6" r="9.35"/><circle cx="1001.5" cy="817.5" r="9.35"/><circle cx="1015.9" cy="830.6" r="9.35"/><circle cx="1047.5" cy="885.0" r="9.35"/>
</g>
<line class="ln" stroke="#D9067A" x1="893.1" y1="660.0" x2="1099.6" y2="619.6"/>
</g>
<g>
<text class="st" x="1239.7" y="260" text-anchor="middle" textLength="63.5" lengthAdjust="spacingAndGlyphs">VOY</text>
<line class="gM" x1="1125.6" x2="1353.5" y1="289.45" y2="289.45"/>
<line class="gm" x1="1125.6" x2="1353.5" y1="356.38" y2="356.38"/>
<line class="gM" x1="1125.6" x2="1353.5" y1="423.32" y2="423.32"/>
<line class="gm" x1="1125.6" x2="1353.5" y1="490.25" y2="490.25"/>
<line class="gM" x1="1125.6" x2="1353.5" y1="557.19" y2="557.19"/>
<line class="gm" x1="1125.6" x2="1353.5" y1="624.12" y2="624.12"/>
<line class="gM" x1="1125.6" x2="1353.5" y1="691.06" y2="691.06"/>
<line class="gm" x1="1125.6" x2="1353.5" y1="758.00" y2="758.00"/>
<line class="gM" x1="1125.6" x2="1353.5" y1="824.93" y2="824.93"/>
<line class="gm" x1="1125.6" x2="1353.5" y1="891.87" y2="891.87"/>
<line class="gM" x1="1125.6" x2="1353.5" y1="958.80" y2="958.80"/>
<line class="gm" x1="1125.6" x2="1353.5" y1="1025.74" y2="1025.74"/>
<line class="gM" x1="1125.6" x2="1353.5" y1="1092.67" y2="1092.67"/>
<line class="gM" x1="1134.50" x2="1134.50" y1="275.0" y2="1156.6"/>
<text class="tk" x="1134.5" y="1181.7" text-anchor="middle" textLength="14.1" lengthAdjust="spacingAndGlyphs">0</text>
<line class="gm" x1="1164.86" x2="1164.86" y1="275.0" y2="1156.6"/>
<line class="gM" x1="1195.22" x2="1195.22" y1="275.0" y2="1156.6"/>
<text class="tk" x="1195.2" y="1181.7" text-anchor="middle" textLength="28.2" lengthAdjust="spacingAndGlyphs">50</text>
<line class="gm" x1="1225.58" x2="1225.58" y1="275.0" y2="1156.6"/>
<line class="gM" x1="1255.94" x2="1255.94" y1="275.0" y2="1156.6"/>
<text class="tk" x="1255.9" y="1181.7" text-anchor="middle" textLength="42.3" lengthAdjust="spacingAndGlyphs">100</text>
<line class="gm" x1="1286.30" x2="1286.30" y1="275.0" y2="1156.6"/>
<line class="gM" x1="1316.66" x2="1316.66" y1="275.0" y2="1156.6"/>
<text class="tk" x="1316.7" y="1181.7" text-anchor="middle" textLength="42.3" lengthAdjust="spacingAndGlyphs">150</text>
<line class="gm" x1="1347.02" x2="1347.02" y1="275.0" y2="1156.6"/>
<g class="pt" fill="#559D16">
<circle cx="1341.5" cy="378.0" r="9.35"/><circle cx="1343.0" cy="418.0" r="9.35"/><circle cx="1217.0" cy="483.1" r="9.35"/><circle cx="1218.2" cy="490.6" r="9.35"/><circle cx="1234.1" cy="506.2" r="9.35"/><circle cx="1277.6" cy="506.2" r="9.35"/><circle cx="1267.6" cy="511.2" r="9.35"/><circle cx="1267.0" cy="514.4" r="9.35"/><circle cx="1294.9" cy="522.9" r="9.35"/><circle cx="1256.0" cy="529.4" r="9.35"/><circle cx="1251.1" cy="533.1" r="9.35"/><circle cx="1226.8" cy="535.6" r="9.35"/><circle cx="1228.0" cy="544.6" r="9.35"/><circle cx="1213.6" cy="541.9" r="9.35"/><circle cx="1195.8" cy="548.8" r="9.35"/><circle cx="1195.1" cy="551.2" r="9.35"/><circle cx="1179.5" cy="551.2" r="9.35"/><circle cx="1186.4" cy="556.2" r="9.35"/><circle cx="1143.0" cy="554.4" r="9.35"/><circle cx="1135.8" cy="565.0" r="9.35"/><circle cx="1253.5" cy="548.8" r="9.35"/><circle cx="1249.9" cy="559.4" r="9.35"/><circle cx="1280.1" cy="552.5" r="9.35"/><circle cx="1281.4" cy="560.0" r="9.35"/><circle cx="1292.4" cy="556.0" r="9.35"/><circle cx="1311.8" cy="562.5" r="9.35"/><circle cx="1219.5" cy="565.6" r="9.35"/><circle cx="1248.9" cy="570.0" r="9.35"/><circle cx="1247.6" cy="575.0" r="9.35"/><circle cx="1242.6" cy="580.6" r="9.35"/><circle cx="1312.6" cy="573.8" r="9.35"/><circle cx="1325.1" cy="578.8" r="9.35"/><circle cx="1340.1" cy="583.1" r="9.35"/><circle cx="1329.5" cy="586.9" r="9.35"/><circle cx="1285.1" cy="579.4" r="9.35"/><circle cx="1185.8" cy="576.9" r="9.35"/><circle cx="1174.5" cy="580.0" r="9.35"/><circle cx="1175.8" cy="581.9" r="9.35"/><circle cx="1206.1" cy="578.1" r="9.35"/><circle cx="1215.8" cy="593.1" r="9.35"/><circle cx="1275.5" cy="590.0" r="9.35"/><circle cx="1314.5" cy="593.1" r="9.35"/><circle cx="1322.6" cy="590.6" r="9.35"/><circle cx="1245.1" cy="594.4" r="9.35"/><circle cx="1242.6" cy="596.9" r="9.35"/><circle cx="1240.1" cy="600.0" r="9.35"/><circle cx="1238.2" cy="605.0" r="9.35"/><circle cx="1225.5" cy="606.5" r="9.35"/><circle cx="1155.1" cy="599.1" r="9.35"/><circle cx="1178.2" cy="604.8" r="9.35"/><circle cx="1169.5" cy="611.9" r="9.35"/><circle cx="1187.9" cy="617.2" r="9.35"/><circle cx="1146.8" cy="616.9" r="9.35"/><circle cx="1260.8" cy="611.9" r="9.35"/><circle cx="1289.9" cy="609.4" r="9.35"/><circle cx="1309.5" cy="617.5" r="9.35"/><circle cx="1319.5" cy="616.2" r="9.35"/><circle cx="1323.2" cy="616.9" r="9.35"/><circle cx="1337.0" cy="620.6" r="9.35"/><circle cx="1236.8" cy="623.1" r="9.35"/><circle cx="1224.5" cy="627.5" r="9.35"/><circle cx="1137.0" cy="628.1" r="9.35"/><circle cx="1138.9" cy="628.8" r="9.35"/><circle cx="1147.6" cy="628.8" r="9.35"/><circle cx="1157.6" cy="626.2" r="9.35"/><circle cx="1262.0" cy="628.1" r="9.35"/><circle cx="1265.1" cy="628.1" r="9.35"/><circle cx="1258.2" cy="630.0" r="9.35"/><circle cx="1271.4" cy="635.6" r="9.35"/><circle cx="1288.9" cy="635.0" r="9.35"/><circle cx="1334.5" cy="632.5" r="9.35"/><circle cx="1342.0" cy="635.0" r="9.35"/><circle cx="1333.2" cy="635.6" r="9.35"/><circle cx="1172.6" cy="640.0" r="9.35"/><circle cx="1182.6" cy="640.0" r="9.35"/><circle cx="1169.5" cy="644.4" r="9.35"/><circle cx="1153.9" cy="646.9" r="9.35"/><circle cx="1152.0" cy="651.2" r="9.35"/><circle cx="1198.9" cy="643.1" r="9.35"/><circle cx="1211.0" cy="643.1" r="9.35"/><circle cx="1190.1" cy="647.5" r="9.35"/><circle cx="1184.5" cy="650.0" r="9.35"/><circle cx="1235.1" cy="643.1" r="9.35"/><circle cx="1220.8" cy="651.2" r="9.35"/><circle cx="1214.5" cy="653.8" r="9.35"/><circle cx="1278.2" cy="646.2" r="9.35"/><circle cx="1283.2" cy="645.0" r="9.35"/><circle cx="1289.5" cy="645.6" r="9.35"/><circle cx="1300.8" cy="648.1" r="9.35"/><circle cx="1303.2" cy="651.2" r="9.35"/><circle cx="1327.6" cy="643.8" r="9.35"/><circle cx="1329.5" cy="647.5" r="9.35"/><circle cx="1334.5" cy="651.2" r="9.35"/><circle cx="1338.2" cy="655.0" r="9.35"/><circle cx="1317.0" cy="656.2" r="9.35"/><circle cx="1290.8" cy="656.2" r="9.35"/><circle cx="1305.8" cy="658.1" r="9.35"/><circle cx="1270.1" cy="658.1" r="9.35"/><circle cx="1245.8" cy="656.9" r="9.35"/><circle cx="1251.4" cy="661.2" r="9.35"/><circle cx="1138.9" cy="657.5" r="9.35"/><circle cx="1150.8" cy="659.4" r="9.35"/><circle cx="1160.8" cy="664.4" r="9.35"/><circle cx="1164.5" cy="666.9" r="9.35"/><circle cx="1168.2" cy="668.8" r="9.35"/><circle cx="1177.0" cy="666.9" r="9.35"/><circle cx="1200.1" cy="660.0" r="9.35"/><circle cx="1205.8" cy="656.2" r="9.35"/><circle cx="1202.0" cy="670.0" r="9.35"/><circle cx="1208.9" cy="669.4" r="9.35"/><circle cx="1228.2" cy="667.5" r="9.35"/><circle cx="1232.6" cy="666.9" r="9.35"/><circle cx="1264.5" cy="666.9" r="9.35"/><circle cx="1259.5" cy="671.9" r="9.35"/><circle cx="1315.1" cy="666.2" r="9.35"/><circle cx="1318.9" cy="663.1" r="9.35"/><circle cx="1326.4" cy="663.8" r="9.35"/><circle cx="1241.4" cy="677.5" r="9.35"/><circle cx="1228.9" cy="676.2" r="9.35"/><circle cx="1212.0" cy="680.0" r="9.35"/><circle cx="1202.6" cy="688.1" r="9.35"/><circle cx="1298.9" cy="676.9" r="9.35"/><circle cx="1301.4" cy="679.4" r="9.35"/><circle cx="1304.5" cy="691.2" r="9.35"/><circle cx="1141.4" cy="680.6" r="9.35"/><circle cx="1140.1" cy="684.4" r="9.35"/><circle cx="1145.8" cy="688.1" r="9.35"/><circle cx="1150.1" cy="690.0" r="9.35"/><circle cx="1144.5" cy="691.2" r="9.35"/><circle cx="1160.1" cy="701.2" r="9.35"/><circle cx="1149.5" cy="705.0" r="9.35"/><circle cx="1237.6" cy="698.8" r="9.35"/><circle cx="1286.4" cy="700.0" r="9.35"/><circle cx="1269.1" cy="704.4" r="9.35"/><circle cx="1316.4" cy="705.0" r="9.35"/><circle cx="1310.8" cy="710.0" r="9.35"/><circle cx="1321.4" cy="711.2" r="9.35"/><circle cx="1230.5" cy="709.4" r="9.35"/><circle cx="1203.5" cy="705.0" r="9.35"/><circle cx="1189.5" cy="706.9" r="9.35"/><circle cx="1180.8" cy="710.0" r="9.35"/><circle cx="1207.6" cy="713.8" r="9.35"/><circle cx="1209.5" cy="721.2" r="9.35"/><circle cx="1258.5" cy="714.6" r="9.35"/><circle cx="1156.4" cy="719.4" r="9.35"/><circle cx="1162.6" cy="726.2" r="9.35"/><circle cx="1195.1" cy="722.5" r="9.35"/><circle cx="1192.0" cy="725.6" r="9.35"/><circle cx="1231.4" cy="726.2" r="9.35"/><circle cx="1243.9" cy="725.6" r="9.35"/><circle cx="1308.2" cy="732.5" r="9.35"/><circle cx="1296.4" cy="736.9" r="9.35"/><circle cx="1274.2" cy="733.1" r="9.35"/><circle cx="1254.5" cy="739.4" r="9.35"/><circle cx="1181.8" cy="735.6" r="9.35"/><circle cx="1192.6" cy="736.9" r="9.35"/><circle cx="1194.5" cy="746.2" r="9.35"/><circle cx="1262.9" cy="749.4" r="9.35"/><circle cx="1300.8" cy="747.5" r="9.35"/><circle cx="1297.6" cy="758.8" r="9.35"/><circle cx="1307.0" cy="764.4" r="9.35"/><circle cx="1165.1" cy="756.2" r="9.35"/><circle cx="1172.0" cy="754.4" r="9.35"/><circle cx="1222.0" cy="759.1" r="9.35"/><circle cx="1158.9" cy="773.8" r="9.35"/><circle cx="1283.8" cy="790.8" r="9.35"/><circle cx="1293.2" cy="790.2" r="9.35"/><circle cx="1276.5" cy="826.5" r="9.35"/><circle cx="1271.2" cy="900.2" r="9.35"/>
</g>
<line class="ln" stroke="#559D16" x1="1136.4" y1="656.5" x2="1343.2" y2="629.8"/>
</g>
<g>
<text class="st" x="1483.0" y="260" text-anchor="middle" textLength="61.0" lengthAdjust="spacingAndGlyphs">ENT</text>
<line class="gM" x1="1368.9" x2="1596.9" y1="289.45" y2="289.45"/>
<line class="gm" x1="1368.9" x2="1596.9" y1="356.38" y2="356.38"/>
<line class="gM" x1="1368.9" x2="1596.9" y1="423.32" y2="423.32"/>
<line class="gm" x1="1368.9" x2="1596.9" y1="490.25" y2="490.25"/>
<line class="gM" x1="1368.9" x2="1596.9" y1="557.19" y2="557.19"/>
<line class="gm" x1="1368.9" x2="1596.9" y1="624.12" y2="624.12"/>
<line class="gM" x1="1368.9" x2="1596.9" y1="691.06" y2="691.06"/>
<line class="gm" x1="1368.9" x2="1596.9" y1="758.00" y2="758.00"/>
<line class="gM" x1="1368.9" x2="1596.9" y1="824.93" y2="824.93"/>
<line class="gm" x1="1368.9" x2="1596.9" y1="891.87" y2="891.87"/>
<line class="gM" x1="1368.9" x2="1596.9" y1="958.80" y2="958.80"/>
<line class="gm" x1="1368.9" x2="1596.9" y1="1025.74" y2="1025.74"/>
<line class="gM" x1="1368.9" x2="1596.9" y1="1092.67" y2="1092.67"/>
<line class="gM" x1="1376.80" x2="1376.80" y1="275.0" y2="1156.6"/>
<text class="tk" x="1376.8" y="1181.7" text-anchor="middle" textLength="14.1" lengthAdjust="spacingAndGlyphs">0</text>
<line class="gm" x1="1398.22" x2="1398.22" y1="275.0" y2="1156.6"/>
<line class="gM" x1="1419.64" x2="1419.64" y1="275.0" y2="1156.6"/>
<text class="tk" x="1419.6" y="1181.7" text-anchor="middle" textLength="28.2" lengthAdjust="spacingAndGlyphs">20</text>
<line class="gm" x1="1441.06" x2="1441.06" y1="275.0" y2="1156.6"/>
<line class="gM" x1="1462.48" x2="1462.48" y1="275.0" y2="1156.6"/>
<text class="tk" x="1462.5" y="1181.7" text-anchor="middle" textLength="28.2" lengthAdjust="spacingAndGlyphs">40</text>
<line class="gm" x1="1483.90" x2="1483.90" y1="275.0" y2="1156.6"/>
<line class="gM" x1="1505.32" x2="1505.32" y1="275.0" y2="1156.6"/>
<text class="tk" x="1505.3" y="1181.7" text-anchor="middle" textLength="28.2" lengthAdjust="spacingAndGlyphs">60</text>
<line class="gm" x1="1526.74" x2="1526.74" y1="275.0" y2="1156.6"/>
<line class="gM" x1="1548.16" x2="1548.16" y1="275.0" y2="1156.6"/>
<text class="tk" x="1548.2" y="1181.7" text-anchor="middle" textLength="28.2" lengthAdjust="spacingAndGlyphs">80</text>
<line class="gm" x1="1569.58" x2="1569.58" y1="275.0" y2="1156.6"/>
<line class="gM" x1="1591.00" x2="1591.00" y1="275.0" y2="1156.6"/>
<text class="tk" x="1591.0" y="1181.7" text-anchor="middle" textLength="42.3" lengthAdjust="spacingAndGlyphs">100</text>
<g class="pt" fill="#E09B07">
<circle cx="1537.5" cy="534.4" r="9.35"/><circle cx="1539.6" cy="541.6" r="9.35"/><circle cx="1482.1" cy="544.4" r="9.35"/><circle cx="1567.5" cy="545.4" r="9.35"/><circle cx="1436.9" cy="564.0" r="9.35"/><circle cx="1432.9" cy="567.1" r="9.35"/><circle cx="1488.1" cy="568.1" r="9.35"/><circle cx="1558.8" cy="568.1" r="9.35"/><circle cx="1526.6" cy="573.1" r="9.35"/><circle cx="1565.0" cy="576.2" r="9.35"/><circle cx="1434.8" cy="581.2" r="9.35"/><circle cx="1516.2" cy="578.8" r="9.35"/><circle cx="1535.6" cy="583.1" r="9.35"/><circle cx="1518.1" cy="588.1" r="9.35"/><circle cx="1441.2" cy="593.1" r="9.35"/><circle cx="1569.4" cy="592.5" r="9.35"/><circle cx="1584.6" cy="591.6" r="9.35"/><circle cx="1464.6" cy="595.6" r="9.35"/><circle cx="1556.6" cy="596.9" r="9.35"/><circle cx="1505.4" cy="598.8" r="9.35"/><circle cx="1426.2" cy="602.1" r="9.35"/><circle cx="1466.6" cy="604.8" r="9.35"/><circle cx="1532.9" cy="616.6" r="9.35"/><circle cx="1509.8" cy="620.0" r="9.35"/><circle cx="1409.1" cy="627.1" r="9.35"/><circle cx="1379.0" cy="631.2" r="9.35"/><circle cx="1543.8" cy="627.5" r="9.35"/><circle cx="1551.9" cy="623.1" r="9.35"/><circle cx="1555.0" cy="625.0" r="9.35"/><circle cx="1563.8" cy="623.8" r="9.35"/><circle cx="1571.2" cy="625.0" r="9.35"/><circle cx="1578.1" cy="627.5" r="9.35"/><circle cx="1530.6" cy="635.6" r="9.35"/><circle cx="1402.8" cy="637.5" r="9.35"/><circle cx="1391.6" cy="640.4" r="9.35"/><circle cx="1573.8" cy="636.9" r="9.35"/><circle cx="1582.1" cy="639.4" r="9.35"/><circle cx="1492.5" cy="642.5" r="9.35"/><circle cx="1522.5" cy="643.8" r="9.35"/><circle cx="1511.9" cy="646.2" r="9.35"/><circle cx="1520.0" cy="650.0" r="9.35"/><circle cx="1528.8" cy="648.1" r="9.35"/><circle cx="1580.0" cy="648.8" r="9.35"/><circle cx="1404.8" cy="651.2" r="9.35"/><circle cx="1381.2" cy="655.6" r="9.35"/><circle cx="1490.6" cy="651.2" r="9.35"/><circle cx="1460.6" cy="652.5" r="9.35"/><circle cx="1459.4" cy="654.4" r="9.35"/><circle cx="1541.2" cy="658.1" r="9.35"/><circle cx="1575.6" cy="658.8" r="9.35"/><circle cx="1586.9" cy="656.2" r="9.35"/><circle cx="1462.5" cy="661.2" r="9.35"/><circle cx="1545.6" cy="661.2" r="9.35"/><circle cx="1548.1" cy="663.8" r="9.35"/><circle cx="1406.9" cy="663.1" r="9.35"/><circle cx="1400.6" cy="666.9" r="9.35"/><circle cx="1396.2" cy="675.0" r="9.35"/><circle cx="1483.8" cy="671.2" r="9.35"/><circle cx="1438.8" cy="676.9" r="9.35"/><circle cx="1451.9" cy="678.8" r="9.35"/><circle cx="1472.5" cy="676.9" r="9.35"/><circle cx="1471.2" cy="679.4" r="9.35"/><circle cx="1479.4" cy="683.8" r="9.35"/><circle cx="1411.2" cy="685.0" r="9.35"/><circle cx="1418.1" cy="688.1" r="9.35"/><circle cx="1420.6" cy="691.2" r="9.35"/><circle cx="1421.2" cy="691.9" r="9.35"/><circle cx="1550.0" cy="686.9" r="9.35"/><circle cx="1503.1" cy="689.4" r="9.35"/><circle cx="1497.5" cy="691.9" r="9.35"/><circle cx="1499.4" cy="690.0" r="9.35"/><circle cx="1506.9" cy="697.5" r="9.35"/><circle cx="1513.8" cy="706.2" r="9.35"/><circle cx="1388.1" cy="697.5" r="9.35"/><circle cx="1393.8" cy="700.0" r="9.35"/><circle cx="1450.6" cy="699.4" r="9.35"/><circle cx="1455.6" cy="700.0" r="9.35"/><circle cx="1413.1" cy="706.9" r="9.35"/><circle cx="1430.6" cy="707.5" r="9.35"/><circle cx="1389.4" cy="711.2" r="9.35"/><circle cx="1383.8" cy="718.8" r="9.35"/><circle cx="1486.2" cy="710.6" r="9.35"/><circle cx="1477.5" cy="716.9" r="9.35"/><circle cx="1468.8" cy="718.8" r="9.35"/><circle cx="1453.8" cy="721.2" r="9.35"/><circle cx="1445.6" cy="718.8" r="9.35"/><circle cx="1443.1" cy="719.4" r="9.35"/><circle cx="1501.0" cy="728.8" r="9.35"/><circle cx="1428.5" cy="731.2" r="9.35"/><circle cx="1475.2" cy="735.6" r="9.35"/><circle cx="1415.6" cy="740.0" r="9.35"/><circle cx="1423.8" cy="741.2" r="9.35"/><circle cx="1385.4" cy="743.8" r="9.35"/><circle cx="1398.1" cy="746.9" r="9.35"/><circle cx="1447.5" cy="746.0" r="9.35"/><circle cx="1524.8" cy="743.8" r="9.35"/><circle cx="1494.6" cy="768.5" r="9.35"/><circle cx="1560.6" cy="769.1" r="9.35"/>
</g>
<line class="ln" stroke="#E09B07" x1="1379.4" y1="692.5" x2="1586.2" y2="621.2"/>
</g>
<g>
<text class="st" x="1726.3" y="260" text-anchor="middle" textLength="62.0" lengthAdjust="spacingAndGlyphs">DSC</text>
<line class="gM" x1="1612.3" x2="1840.2" y1="289.45" y2="289.45"/>
<line class="gm" x1="1612.3" x2="1840.2" y1="356.38" y2="356.38"/>
<line class="gM" x1="1612.3" x2="1840.2" y1="423.32" y2="423.32"/>
<line class="gm" x1="1612.3" x2="1840.2" y1="490.25" y2="490.25"/>
<line class="gM" x1="1612.3" x2="1840.2" y1="557.19" y2="557.19"/>
<line class="gm" x1="1612.3" x2="1840.2" y1="624.12" y2="624.12"/>
<line class="gM" x1="1612.3" x2="1840.2" y1="691.06" y2="691.06"/>
<line class="gm" x1="1612.3" x2="1840.2" y1="758.00" y2="758.00"/>
<line class="gM" x1="1612.3" x2="1840.2" y1="824.93" y2="824.93"/>
<line class="gm" x1="1612.3" x2="1840.2" y1="891.87" y2="891.87"/>
<line class="gM" x1="1612.3" x2="1840.2" y1="958.80" y2="958.80"/>
<line class="gm" x1="1612.3" x2="1840.2" y1="1025.74" y2="1025.74"/>
<line class="gM" x1="1612.3" x2="1840.2" y1="1092.67" y2="1092.67"/>
<line class="gM" x1="1615.10" x2="1615.10" y1="275.0" y2="1156.6"/>
<text class="tk" x="1615.1" y="1181.7" text-anchor="middle" textLength="14.1" lengthAdjust="spacingAndGlyphs">0</text>
<line class="gm" x1="1633.62" x2="1633.62" y1="275.0" y2="1156.6"/>
<line class="gM" x1="1652.14" x2="1652.14" y1="275.0" y2="1156.6"/>
<text class="tk" x="1652.1" y="1181.7" text-anchor="middle" textLength="14.1" lengthAdjust="spacingAndGlyphs">5</text>
<line class="gm" x1="1670.66" x2="1670.66" y1="275.0" y2="1156.6"/>
<line class="gM" x1="1689.18" x2="1689.18" y1="275.0" y2="1156.6"/>
<text class="tk" x="1689.2" y="1181.7" text-anchor="middle" textLength="28.2" lengthAdjust="spacingAndGlyphs">10</text>
<line class="gm" x1="1707.70" x2="1707.70" y1="275.0" y2="1156.6"/>
<line class="gM" x1="1726.22" x2="1726.22" y1="275.0" y2="1156.6"/>
<text class="tk" x="1726.2" y="1181.7" text-anchor="middle" textLength="28.2" lengthAdjust="spacingAndGlyphs">15</text>
<line class="gm" x1="1744.74" x2="1744.74" y1="275.0" y2="1156.6"/>
<line class="gM" x1="1763.26" x2="1763.26" y1="275.0" y2="1156.6"/>
<text class="tk" x="1763.3" y="1181.7" text-anchor="middle" textLength="28.2" lengthAdjust="spacingAndGlyphs">20</text>
<line class="gm" x1="1781.78" x2="1781.78" y1="275.0" y2="1156.6"/>
<line class="gM" x1="1800.30" x2="1800.30" y1="275.0" y2="1156.6"/>
<text class="tk" x="1800.3" y="1181.7" text-anchor="middle" textLength="28.2" lengthAdjust="spacingAndGlyphs">25</text>
<line class="gm" x1="1818.82" x2="1818.82" y1="275.0" y2="1156.6"/>
<line class="gM" x1="1837.34" x2="1837.34" y1="275.0" y2="1156.6"/>
<text class="tk" x="1837.3" y="1181.7" text-anchor="middle" textLength="28.2" lengthAdjust="spacingAndGlyphs">30</text>
<g class="pt" fill="#965F14">
<circle cx="1829.9" cy="480.4" r="9.35"/><circle cx="1681.8" cy="522.5" r="9.35"/><circle cx="1711.4" cy="539.8" r="9.35"/><circle cx="1793.0" cy="537.5" r="9.35"/><circle cx="1785.5" cy="541.6" r="9.35"/><circle cx="1704.0" cy="551.2" r="9.35"/><circle cx="1741.1" cy="556.6" r="9.35"/><circle cx="1800.5" cy="561.9" r="9.35"/><circle cx="1822.8" cy="566.6" r="9.35"/><circle cx="1718.6" cy="570.0" r="9.35"/><circle cx="1733.4" cy="573.1" r="9.35"/><circle cx="1726.4" cy="581.0" r="9.35"/><circle cx="1770.5" cy="580.0" r="9.35"/><circle cx="1807.4" cy="579.0" r="9.35"/><circle cx="1814.9" cy="583.1" r="9.35"/><circle cx="1637.4" cy="581.9" r="9.35"/><circle cx="1629.9" cy="585.2" r="9.35"/><circle cx="1688.6" cy="597.1" r="9.35"/><circle cx="1696.5" cy="596.9" r="9.35"/><circle cx="1778.0" cy="600.4" r="9.35"/><circle cx="1644.6" cy="604.4" r="9.35"/><circle cx="1659.6" cy="607.5" r="9.35"/><circle cx="1652.0" cy="610.0" r="9.35"/><circle cx="1667.0" cy="618.5" r="9.35"/><circle cx="1622.4" cy="621.6" r="9.35"/><circle cx="1755.5" cy="621.9" r="9.35"/><circle cx="1763.4" cy="629.4" r="9.35"/><circle cx="1674.2" cy="646.9" r="9.35"/><circle cx="1748.2" cy="648.8" r="9.35"/>
</g>
<line class="ln" stroke="#965F14" x1="1622.6" y1="607.9" x2="1829.2" y2="557.9"/>
</g>
</svg>
</body></html>
